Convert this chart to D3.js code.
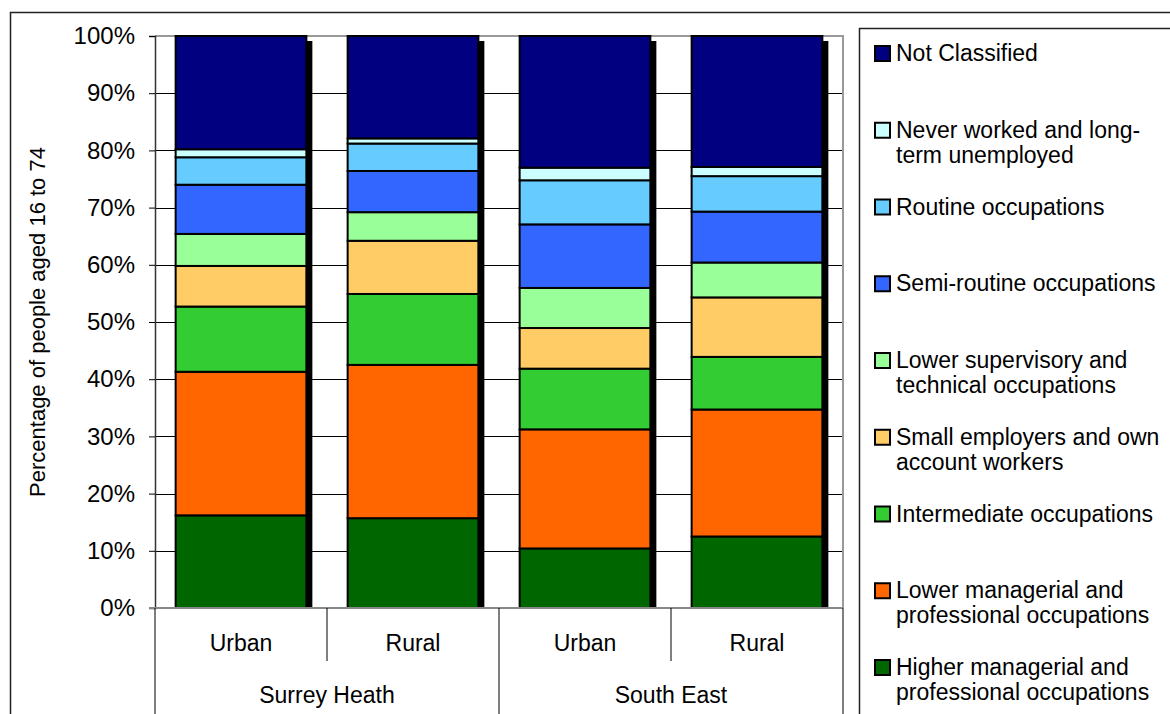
<!DOCTYPE html>
<html>
<head>
<meta charset="utf-8">
<script src="https://cdn.jsdelivr.net/npm/d3@7/dist/d3.min.js"></script>
<style>
  html, body { margin: 0; padding: 0; background: #fff; }
  svg { display: block; }
  text { font-family: "Liberation Sans", Arial, sans-serif; fill: #000; }
</style>
</head>
<body>
<svg id="chart" width="1170" height="714"></svg>
<script>
// ---- data ----
const categories = ["Urban", "Rural", "Urban", "Rural"];
const groups = ["Surrey Heath", "South East"];
const seriesNames = [
  "Higher managerial and professional occupations",
  "Lower managerial and professional occupations",
  "Intermediate occupations",
  "Small employers and own account workers",
  "Lower supervisory and technical occupations",
  "Semi-routine occupations",
  "Routine occupations",
  "Never worked and long-term unemployed",
  "Not Classified"
];
const higherManagerial = [16.2, 15.7, 10.4, 12.5];
const lowerManagerial  = [25.1, 26.8, 20.8, 22.2];
const intermediate     = [11.4, 12.4, 10.6, 9.2];
const smallEmployers   = [7.1, 9.3, 7.1, 10.4];
const lowerSupervisory = [5.6, 5.0, 7.0, 6.1];
const semiRoutine      = [8.6, 7.2, 11.1, 8.9];
const routine          = [4.8, 4.8, 7.7, 6.2];
const neverWorked      = [1.4, 0.9, 2.2, 1.6];
const notClassified    = [19.8, 17.9, 23.0, 22.9];
const seriesValues = [higherManagerial, lowerManagerial, intermediate, smallEmployers,
  lowerSupervisory, semiRoutine, routine, neverWorked, notClassified];
const seriesColors = ["#006600", "#FF6600", "#33CC33", "#FFCC66", "#99FF99",
  "#3366FF", "#66CCFF", "#CCFFFF", "#000080"];
const legendLines = [
  ["Higher managerial and", "professional occupations"],
  ["Lower managerial and", "professional occupations"],
  ["Intermediate occupations"],
  ["Small employers and own", "account workers"],
  ["Lower supervisory and", "technical occupations"],
  ["Semi-routine occupations"],
  ["Routine occupations"],
  ["Never worked and long-", "term unemployed"],
  ["Not Classified"]
];
const yTicks = [0, 0.1, 0.2, 0.3, 0.4, 0.5, 0.6, 0.7, 0.8, 0.9, 1.0];
const yTitle = "Percentage of people aged 16 to 74";

// ---- build table ----
const table = categories.map((c, i) => {
  const row = { idx: i };
  seriesNames.forEach((s, k) => row[s] = seriesValues[k][i]);
  return row;
});
const stacked = d3.stack().keys(seriesNames).offset(d3.stackOffsetExpand)(table);

// ---- layout ----
const svg = d3.select("#chart");
const plot = { left: 155, right: 843, top: 36, bottom: 608 };
const FS = 23;

const x = d3.scaleBand().domain(d3.range(categories.length))
  .range([plot.left, plot.right]).paddingInner(0.24).paddingOuter(0.12);
const y = d3.scaleLinear().domain([0, 1]).range([plot.bottom, plot.top]);
const xGroup = d3.scaleBand().domain(d3.range(groups.length)).range([plot.left, plot.right]);

// outer frame
svg.append("rect").attr("x", 10.5).attr("y", 12.5).attr("width", 1300).attr("height", 900)
  .attr("fill", "#fff").attr("stroke", "#222").attr("stroke-width", 1.5);

// gridlines
svg.append("g").selectAll("line").data(yTicks.filter(t => t > 0 && t < 1)).join("line")
  .attr("x1", plot.left).attr("x2", plot.right)
  .attr("y1", d => Math.round(y(d)) + 0.5).attr("y2", d => Math.round(y(d)) + 0.5)
  .attr("stroke", "#000").attr("stroke-width", 1);

// plot border (top/right grey)
svg.append("path")
  .attr("d", `M${plot.left},${plot.top}H${plot.right}V${plot.bottom}`)
  .attr("fill", "none").attr("stroke", "#999").attr("stroke-width", 2);

// clip for shadows
svg.append("clipPath").attr("id", "plotclip").append("rect")
  .attr("x", plot.left).attr("y", plot.top).attr("width", plot.right - plot.left)
  .attr("height", plot.bottom - plot.top);

// shadows
svg.append("g").attr("clip-path", "url(#plotclip)").selectAll("rect")
  .data(d3.range(categories.length)).join("rect")
  .attr("x", i => x(i) + 6).attr("y", y(1) + 5)
  .attr("width", x.bandwidth()).attr("height", y(0) - y(1))
  .attr("fill", "#000");

// bars
svg.append("g").selectAll("g").data(stacked).join("g")
  .attr("fill", (d, k) => seriesColors[k])
  .selectAll("rect").data(d => d).join("rect")
  .attr("x", d => x(d.data.idx)).attr("y", d => y(d[1]))
  .attr("width", x.bandwidth()).attr("height", d => y(d[0]) - y(d[1]))
  .attr("stroke", "#000").attr("stroke-width", 2);

// y axis
const yAxis = d3.axisLeft(y).tickValues(yTicks).tickFormat(d3.format(".0%"))
  .tickSize(6).tickPadding(14);
const gy = svg.append("g").attr("transform", `translate(${plot.left},0)`).call(yAxis);
gy.select(".domain").attr("stroke", "#333").attr("stroke-width", 1.5);
gy.selectAll(".tick line").attr("stroke", "#000");
gy.selectAll(".tick text").attr("font-size", 24).attr("font-family", "Liberation Sans, Arial, sans-serif").attr("fill", "#000");

// x axis baseline
svg.append("line").attr("x1", plot.left - 6).attr("x2", plot.right)
  .attr("y1", plot.bottom).attr("y2", plot.bottom)
  .attr("stroke", "#888").attr("stroke-width", 2);

// category separators
const sepG = svg.append("g").attr("stroke", "#000").attr("stroke-width", 1);
d3.range(groups.length + 1).forEach(g => {
  const xx = g < groups.length ? xGroup(g) : plot.right;
  sepG.append("line").attr("x1", xx).attr("x2", xx)
    .attr("y1", plot.bottom).attr("y2", 714);
});
categories.forEach((c, i) => {
  if (i % 2 === 1) {
    const xx = (x(i - 1) + x.bandwidth() + x(i)) / 2;
    sepG.append("line").attr("x1", xx).attr("x2", xx)
      .attr("y1", plot.bottom).attr("y2", 661);
  }
});

// category labels
svg.append("g").selectAll("text").data(categories).join("text")
  .attr("x", (d, i) => x(i) + x.bandwidth() / 2).attr("y", 643)
  .attr("text-anchor", "middle").attr("dominant-baseline", "central")
  .attr("font-size", FS).text(d => d);
svg.append("g").selectAll("text").data(groups).join("text")
  .attr("x", (d, i) => xGroup(i) + xGroup.bandwidth() / 2).attr("y", 695)
  .attr("text-anchor", "middle").attr("dominant-baseline", "central")
  .attr("font-size", FS).text(d => d);

// y title
svg.append("text").attr("transform", `translate(37,${(plot.top + plot.bottom) / 2}) rotate(-90)`)
  .attr("text-anchor", "middle").attr("dominant-baseline", "central")
  .attr("font-size", 22).text(yTitle);

// legend
const lg = svg.append("g");
lg.append("rect").attr("x", 859.5).attr("y", 28.5).attr("width", 400).attr("height", 800)
  .attr("fill", "#fff").attr("stroke", "#222").attr("stroke-width", 1.5);
const order = d3.range(seriesNames.length).reverse();
order.forEach((k, j) => {
  const cy = 53 + j * 76.75;
  lg.append("rect").attr("x", 875).attr("y", cy - 7).attr("width", 15).attr("height", 15)
    .attr("fill", seriesColors[k]).attr("stroke", "#000").attr("stroke-width", 2);
  legendLines[k].forEach((ln, li) => {
    lg.append("text").attr("x", 896).attr("y", cy + li * 25)
      .attr("dominant-baseline", "central").attr("font-size", FS).text(ln);
  });
});
</script>
</body>
</html>
